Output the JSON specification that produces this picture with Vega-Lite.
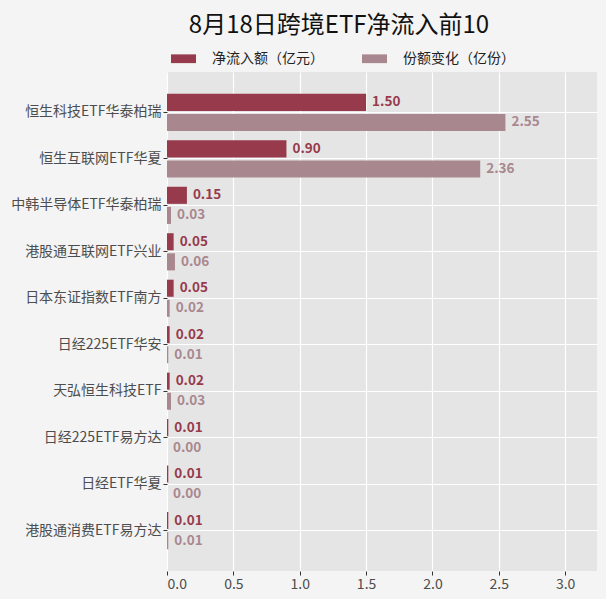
{
  "$schema": "https://vega.github.io/schema/vega-lite/v6.json",
  "width": 430,
  "height": 499,
  "padding": {"left": 10, "top": 14, "right": 9, "bottom": 8},
  "background": "#f4f4f4",
  "title": {
    "text": "8月18日跨境ETF净流入前10",
    "fontSize": 24,
    "fontWeight": "normal",
    "color": "#111111",
    "anchor": "middle",
    "dx": -43,
    "offset": 8
  },
  "data": {
    "values": [
      {"name": "恒生科技ETF华泰柏瑞", "series": "净流入额（亿元）", "value": 1.50},
      {"name": "恒生科技ETF华泰柏瑞", "series": "份额变化（亿份）", "value": 2.55},
      {"name": "恒生互联网ETF华夏", "series": "净流入额（亿元）", "value": 0.90},
      {"name": "恒生互联网ETF华夏", "series": "份额变化（亿份）", "value": 2.36},
      {"name": "中韩半导体ETF华泰柏瑞", "series": "净流入额（亿元）", "value": 0.15},
      {"name": "中韩半导体ETF华泰柏瑞", "series": "份额变化（亿份）", "value": 0.03},
      {"name": "港股通互联网ETF兴业", "series": "净流入额（亿元）", "value": 0.05},
      {"name": "港股通互联网ETF兴业", "series": "份额变化（亿份）", "value": 0.06},
      {"name": "日本东证指数ETF南方", "series": "净流入额（亿元）", "value": 0.05},
      {"name": "日本东证指数ETF南方", "series": "份额变化（亿份）", "value": 0.02},
      {"name": "日经225ETF华安", "series": "净流入额（亿元）", "value": 0.02},
      {"name": "日经225ETF华安", "series": "份额变化（亿份）", "value": 0.01},
      {"name": "天弘恒生科技ETF", "series": "净流入额（亿元）", "value": 0.02},
      {"name": "天弘恒生科技ETF", "series": "份额变化（亿份）", "value": 0.03},
      {"name": "日经225ETF易方达", "series": "净流入额（亿元）", "value": 0.01},
      {"name": "日经225ETF易方达", "series": "份额变化（亿份）", "value": 0.00},
      {"name": "日经ETF华夏", "series": "净流入额（亿元）", "value": 0.01},
      {"name": "日经ETF华夏", "series": "份额变化（亿份）", "value": 0.00},
      {"name": "港股通消费ETF易方达", "series": "净流入额（亿元）", "value": 0.01},
      {"name": "港股通消费ETF易方达", "series": "份额变化（亿份）", "value": 0.01}
    ]
  },
  "encoding": {
    "y": {
      "field": "name",
      "type": "nominal",
      "sort": null,
      "title": null,
      "scale": {"paddingInner": 0.2, "paddingOuter": 0.47},
      "axis": {
        "bandPosition": 0.5,
        "domain": false,
        "tickSize": 4,
        "tickColor": "#333333",
        "labelPadding": 2,
        "labelFontSize": 14,
        "labelColor": "#4d4d4d",
        "grid": true,
        "gridColor": "#ffffff",
        "gridWidth": 1.2
      }
    },
    "yOffset": {
      "field": "series",
      "type": "nominal",
      "sort": ["净流入额（亿元）", "份额变化（亿份）"],
      "scale": {"paddingInner": 0.15}
    },
    "x": {
      "field": "value",
      "type": "quantitative",
      "title": null,
      "scale": {"domain": [0, 3.24], "nice": false},
      "axis": {
        "values": [0, 0.5, 1, 1.5, 2, 2.5, 3],
        "format": ".1f",
        "domain": false,
        "tickSize": 4,
        "tickColor": "#333333",
        "labelFontSize": 14,
        "labelColor": "#4d4d4d",
        "labelPadding": 2,
        "gridColor": "#ffffff",
        "gridWidth": 1.2
      }
    },
    "color": {
      "field": "series",
      "type": "nominal",
      "sort": ["净流入额（亿元）", "份额变化（亿份）"],
      "scale": {"range": ["#963a4c", "#a9878f"]},
      "legend": {
        "title": null,
        "orient": "none",
        "direction": "horizontal",
        "legendX": 4,
        "legendY": -26,
        "symbolType": "M-1,-0.35L1,-0.35L1,0.35L-1,0.35Z",
        "symbolSize": 625,
        "symbolOpacity": 1,
        "symbolStrokeWidth": 0,
        "labelFontSize": 14,
        "labelColor": "#222222",
        "columnPadding": 38,
        "labelOffset": 16
      }
    }
  },
  "layer": [
    {"mark": {"type": "bar"}},
    {
      "mark": {
        "type": "text",
        "align": "left",
        "baseline": "middle",
        "dx": 6,
        "fontSize": 13.5,
        "fontWeight": "bold"
      },
      "encoding": {
        "text": {"field": "value", "type": "quantitative", "format": ".2f"}
      }
    }
  ],
  "config": {
    "font": "Noto Sans CJK SC",
    "view": {"fill": "#e5e5e5", "stroke": null}
  }
}
